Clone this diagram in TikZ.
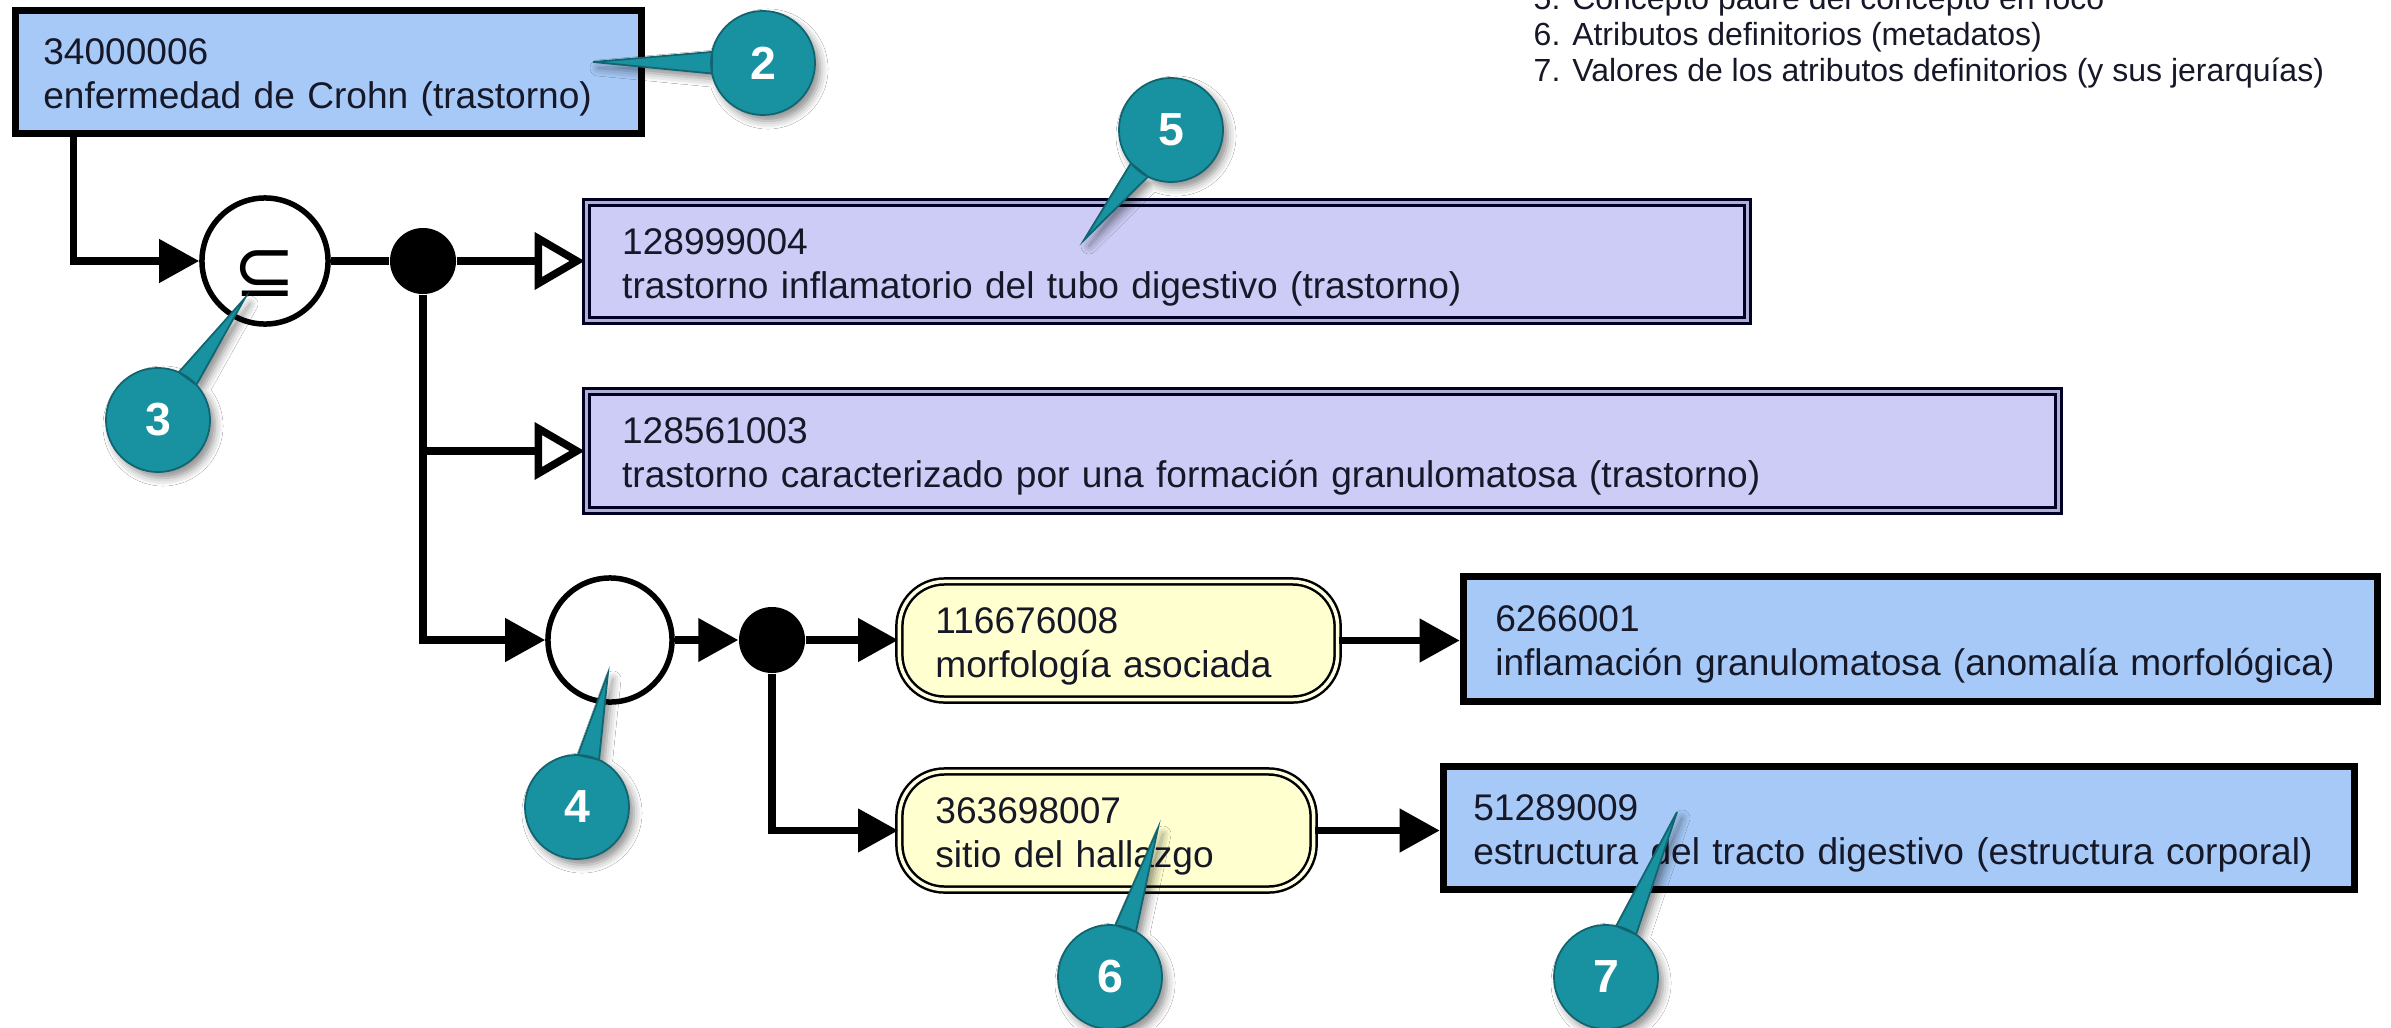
\documentclass[tikz,border=0pt]{standalone}
\usepackage{fontspec}
\setmainfont{Liberation Sans}
\newfontfamily\symbfont{DejaVu Sans}
\usetikzlibrary{arrows.meta,shadows.blur,calc}
\definecolor{cblue}{RGB}{166,201,247}
\definecolor{cpurple}{RGB}{204,204,246}
\definecolor{cgap}{RGB}{176,176,208}
\definecolor{cyellow}{RGB}{255,255,207}
\definecolor{cteal}{RGB}{24,145,160}
\definecolor{ctext}{RGB}{22,24,40}
\newcommand\calltail[2]{%
  \filldraw[fill=cteal, draw=cteal!70!black, line width=0.5pt,
    blur shadow={shadow xshift=0.05cm, shadow yshift=-0.06cm, shadow blur radius=0.08cm, shadow opacity=45}]
    let \p1=($(#2)-(#1)$), \n1={atan2(\y1,\x1)} in
    ($(#1)+(\n1-12:0.52cm)$) -- (#2) -- ($(#1)+(\n1+12:0.52cm)$) -- cycle
    (#1) circle[radius=0.52cm];}
\begin{document}
\begin{tikzpicture}[x=0.01cm,y=-0.01cm,
  txt/.style={font=\fontsize{10.55pt}{12.5pt}\selectfont, text=ctext, align=left,
    execute at begin node=\rule{0pt}{1em}},
  conbox/.style={txt, rectangle, draw=black, line width=0.07cm, fill=cblue, inner ysep=0pt},
  prim/.style={txt, rectangle, draw=black!85!blue, line width=0.03cm, double=cgap,
    double distance=0.03cm, fill=cpurple, inner ysep=0pt},
  attr/.style={txt, rectangle, rounded corners=0.45cm, draw=black, line width=0.025cm,
    double=white!40!cyellow, double distance=0.035cm, fill=cyellow, inner ysep=0pt},
  conn/.style={line width=0.075cm, line join=miter},
  arr/.style={conn, -{Triangle[length=0.40cm,width=0.42cm]}},
  harr/.style={conn, -{Triangle[open,length=0.50cm,width=0.56cm]}},
  dot/.style={circle, fill=black, inner sep=0pt, minimum size=0.66cm},
  opnode/.style={circle, draw=black, line width=0.055cm, fill=white, inner sep=0pt},
  callnum/.style={inner sep=0pt, text=white, font=\fontsize{13.2pt}{14pt}\selectfont\bfseries},
  legend/.style={anchor=base west, font=\fontsize{9.1pt}{11pt}\selectfont, text=ctext, inner sep=0pt}
]
\fill[white] (0,0) rectangle (2391,1027);
\useasboundingbox (0,0) rectangle (2391,1027);

% legend
\node[legend] (l5) at (1533,9) {5. Concepto padre del concepto en foco};
\node[legend] (l6) at (1533,45) {6. Atributos definitorios (metadatos)};
\node[legend] (l7) at (1533,81) {7. Valores de los atributos definitorios (y sus jerarquías)};

% concept boxes
\node[conbox, text width=5.70cm, inner xsep=0.28cm, minimum height=1.23cm] (b1) at (328.5,72)
  {34000006\\enfermedad de Crohn (trastorno)};
\node[prim, text width=10.89cm, inner xsep=0.36cm, minimum height=1.18cm] (b5) at (1167,261.5)
  {128999004\\trastorno inflamatorio del tubo digestivo (trastorno)};
\node[prim, text width=14.00cm, inner xsep=0.36cm, minimum height=1.19cm] (b2) at (1322.5,451)
  {128561003\\trastorno caracterizado por una formación granulomatosa (trastorno)};
\node[attr, text width=3.66cm, inner xsep=0.36cm, minimum height=1.18cm] (y1) at (1118.5,640.5)
  {116676008\\morfología asociada};
\node[attr, text width=3.42cm, inner xsep=0.36cm, minimum height=1.18cm] (y2) at (1106.5,830.5)
  {363698007\\sitio del hallazgo};
\node[conbox, text width=8.50cm, inner xsep=0.32cm, minimum height=1.25cm] (b3) at (1920.5,639)
  {6266001\\inflamación granulomatosa (anomalía morfológica)};
\node[conbox, text width=8.51cm, inner xsep=0.30cm, minimum height=1.23cm] (b4) at (1899,828)
  {51289009\\estructura del tracto digestivo (estructura corporal)};

% operators and junctions
\node[opnode, minimum size=1.26cm] (sub) at (265,261) {};
\node[inner sep=0pt, scale=1.7, font=\symbfont\fontsize{12.5pt}{13pt}\selectfont] (subsym) at (265,274) {⊆};
\node[dot] (d1) at (423,261) {};
\node[opnode, minimum size=1.24cm] (k4) at (610,640) {};
\node[dot] (d2) at (772,640) {};

% connectors
\coordinate (b1out) at ($(b1.south west)+(61.5,0)$);
\draw[arr] (b1out) |- (sub.west);
\draw[conn] (sub.east) -- (d1);
\draw[harr] (d1.east) -- (d1.east -| b5.west);
\draw[arr] (d1.south) |- (k4.west);
\draw[harr] (d1.south |- b2.west) -- (b2.west);
\draw[arr] (k4.east) -- (d2.west);
\draw[arr] (d2.east) -- (d2.east -| y1.west);
\draw[arr] (d2.south) |- (y2.west);
\draw[arr] (y1.east) -- (y1.east -| b3.west);
\draw[arr] (y2.east) -- (y2.east -| b4.west);

% callouts
\coordinate (c2c) at (763,63);   \coordinate (t2) at (593,62);
\coordinate (c3c) at (158,420);  \coordinate (t3) at (245,298);
\coordinate (c4c) at (577,807);  \coordinate (t4) at (608,673);
\coordinate (c5c) at (1171,130); \coordinate (t5) at (1084,240);
\coordinate (c6c) at (1110,977); \coordinate (t6) at (1158,828);
\coordinate (c7c) at (1606,977); \coordinate (t7) at (1677,812);
\calltail{c2c}{t2} \node[callnum] (c2) at (c2c) {2};
\calltail{c3c}{t3} \node[callnum] (c3) at (c3c) {3};
\calltail{c4c}{t4} \node[callnum] (c4) at (c4c) {4};
\calltail{c5c}{t5} \node[callnum] (c5) at (c5c) {5};
\calltail{c6c}{t6} \node[callnum] (c6) at (c6c) {6};
\calltail{c7c}{t7} \node[callnum] (c7) at (c7c) {7};
\end{tikzpicture}
\end{document}
